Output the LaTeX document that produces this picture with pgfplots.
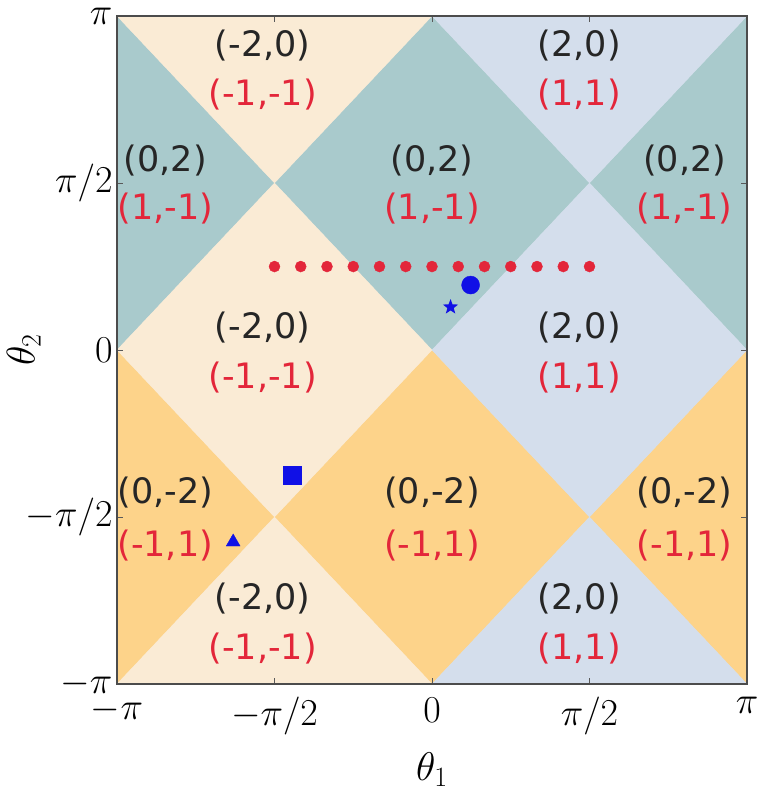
\RequirePackage{fix-cm}
\documentclass[border=0pt]{standalone}
\usepackage{pgfplots}
\pgfplotsset{compat=1.18}
\usepackage{fontspec}
\newfontfamily\dv{DejaVu Sans}
\usetikzlibrary{plotmarks}
\definecolor{cteal}{HTML}{A9CACC}
\definecolor{cbeige}{HTML}{FAEBD5}
\definecolor{cblue}{HTML}{D4DEEC}
\definecolor{corange}{HTML}{FDD38A}
\definecolor{cred}{HTML}{E3263A}
\definecolor{cmark}{HTML}{1010E6}
\definecolor{ctext}{HTML}{262626}
\pgfdeclareplotmark{fstar}{%
  \pgfpathmoveto{\pgfpointpolar{90}{\pgfplotmarksize}}%
  \pgfpathlineto{\pgfpointpolar{126}{0.42\pgfplotmarksize}}%
  \pgfpathlineto{\pgfpointpolar{162}{\pgfplotmarksize}}%
  \pgfpathlineto{\pgfpointpolar{198}{0.42\pgfplotmarksize}}%
  \pgfpathlineto{\pgfpointpolar{234}{\pgfplotmarksize}}%
  \pgfpathlineto{\pgfpointpolar{270}{0.42\pgfplotmarksize}}%
  \pgfpathlineto{\pgfpointpolar{306}{\pgfplotmarksize}}%
  \pgfpathlineto{\pgfpointpolar{342}{0.42\pgfplotmarksize}}%
  \pgfpathlineto{\pgfpointpolar{18}{\pgfplotmarksize}}%
  \pgfpathlineto{\pgfpointpolar{54}{0.42\pgfplotmarksize}}%
  \pgfpathclose\pgfusepathqfill}
\tikzset{blab/.style={text=ctext,font=\dv\fontsize{35}{37}\selectfont},
         rlab/.style={text=cred,font=\dv\fontsize{35}{37}\selectfont}}
\begin{document}
\begin{tikzpicture}
\useasboundingbox (-117pt,-106pt) rectangle (642pt,684pt);
\begin{axis}[
  at={(0pt,0pt)}, anchor=south west,
  scale only axis, width=630pt, height=668pt,
  xmin=-3.14159, xmax=3.14159, ymin=-3.14159, ymax=3.14159,
  axis on top,
  xtick={-3.14159,-1.5708,0,1.5708,3.14159},
  ytick={-3.14159,-1.5708,0,1.5708,3.14159},
  xticklabels={$-\pi$,$-\pi/2$,$0$,$\pi/2$,$\pi$},
  yticklabels={$-\pi$,$-\pi/2$,$0$,$\pi/2$,$\pi$},
  tick label style={font=\fontsize{38}{40}\selectfont},
  label style={font=\fontsize{40}{42}\selectfont},
  xlabel={$\theta_1$}, ylabel={$\theta_2$},
  tick align=inside, major tick length=6pt,
  tick style={gray!70!black, line width=0.8pt},
  axis line style={gray!60!black, line width=1.2pt},
  xticklabel style={yshift=-10pt},
  yticklabel style={xshift=-1pt},
  xlabel style={yshift=-10pt},
  ylabel style={yshift=-22pt},
]
% teal cells
\addplot[fill=cteal, draw=cteal, line width=0.3pt] coordinates {(-4.7124,1.5708) (-3.1416,3.1416) (-1.5708,1.5708) (-3.1416,0)} --cycle;
\addplot[fill=cteal, draw=cteal, line width=0.3pt] coordinates {(-1.5708,1.5708) (0,3.1416) (1.5708,1.5708) (0,0)} --cycle;
\addplot[fill=cteal, draw=cteal, line width=0.3pt] coordinates {(1.5708,1.5708) (3.1416,3.1416) (4.7124,1.5708) (3.1416,0)} --cycle;
% orange cells
\addplot[fill=corange, draw=corange, line width=0.3pt] coordinates {(-4.7124,-1.5708) (-3.1416,0) (-1.5708,-1.5708) (-3.1416,-3.1416)} --cycle;
\addplot[fill=corange, draw=corange, line width=0.3pt] coordinates {(-1.5708,-1.5708) (0,0) (1.5708,-1.5708) (0,-3.1416)} --cycle;
\addplot[fill=corange, draw=corange, line width=0.3pt] coordinates {(1.5708,-1.5708) (3.1416,0) (4.7124,-1.5708) (3.1416,-3.1416)} --cycle;
% beige cells
\addplot[fill=cbeige, draw=cbeige, line width=0.3pt] coordinates {(-3.1416,0) (-1.5708,1.5708) (0,0) (-1.5708,-1.5708)} --cycle;
\addplot[fill=cbeige, draw=cbeige, line width=0.3pt] coordinates {(-3.1416,3.1416) (-1.5708,4.7124) (0,3.1416) (-1.5708,1.5708)} --cycle;
\addplot[fill=cbeige, draw=cbeige, line width=0.3pt] coordinates {(-3.1416,-3.1416) (-1.5708,-1.5708) (0,-3.1416) (-1.5708,-4.7124)} --cycle;
% blue cells
\addplot[fill=cblue, draw=cblue, line width=0.3pt] coordinates {(0,0) (1.5708,1.5708) (3.1416,0) (1.5708,-1.5708)} --cycle;
\addplot[fill=cblue, draw=cblue, line width=0.3pt] coordinates {(0,3.1416) (1.5708,4.7124) (3.1416,3.1416) (1.5708,1.5708)} --cycle;
\addplot[fill=cblue, draw=cblue, line width=0.3pt] coordinates {(0,-3.1416) (1.5708,-1.5708) (3.1416,-3.1416) (1.5708,-4.7124)} --cycle;
% labels
\node[blab] at (axis cs:-1.689,2.868) {(-2,0)};
\node[rlab] at (axis cs:-1.689,2.405) {(-1,-1)};
\node[blab] at (axis cs:1.468,2.868) {(2,0)};
\node[rlab] at (axis cs:1.468,2.405) {(1,1)};
\node[blab] at (axis cs:-2.661,1.781) {(0,2)};
\node[rlab] at (axis cs:-2.661,1.327) {(1,-1)};
\node[blab] at (axis cs:0,1.781) {(0,2)};
\node[rlab] at (axis cs:0,1.327) {(1,-1)};
\node[blab] at (axis cs:2.520,1.781) {(0,2)};
\node[rlab] at (axis cs:2.520,1.327) {(1,-1)};
\node[blab] at (axis cs:-1.689,0.213) {(-2,0)};
\node[rlab] at (axis cs:-1.689,-0.260) {(-1,-1)};
\node[blab] at (axis cs:1.468,0.213) {(2,0)};
\node[rlab] at (axis cs:1.468,-0.260) {(1,1)};
\node[blab] at (axis cs:-2.661,-1.337) {(0,-2)};
\node[rlab] at (axis cs:-2.661,-1.838) {(-1,1)};
\node[blab] at (axis cs:0,-1.337) {(0,-2)};
\node[rlab] at (axis cs:0,-1.838) {(-1,1)};
\node[blab] at (axis cs:2.520,-1.337) {(0,-2)};
\node[rlab] at (axis cs:2.520,-1.838) {(-1,1)};
\node[blab] at (axis cs:-1.689,-2.338) {(-2,0)};
\node[rlab] at (axis cs:-1.689,-2.811) {(-1,-1)};
\node[blab] at (axis cs:1.468,-2.338) {(2,0)};
\node[rlab] at (axis cs:1.468,-2.811) {(1,1)};
% path of red dots
\addplot[only marks, mark=*, mark size=5.5pt, color=cred, mark options={draw=none, fill=cred}] coordinates {
(-1.5708,0.785) (-1.3090,0.785) (-1.0472,0.785) (-0.7854,0.785) (-0.5236,0.785) (-0.2618,0.785) (0,0.785)
(0.2618,0.785) (0.5236,0.785) (0.7854,0.785) (1.0472,0.785) (1.3090,0.785) (1.5708,0.785)};
% markers
\addplot[only marks, mark=*, mark size=9pt, color=cmark, mark options={draw=none, fill=cmark}] coordinates {(0.385,0.611)};
\addplot[only marks, mark=fstar, mark size=8pt, color=cmark, mark options={fill=cmark}] coordinates {(0.185,0.404)};
\addplot[only marks, mark=square*, mark size=9pt, color=cmark, mark options={draw=none, fill=cmark}] coordinates {(-1.393,-1.176)};
\addplot[only marks, mark=triangle*, mark size=8pt, color=cmark, mark options={draw=none, fill=cmark}] coordinates {(-1.983,-1.806)};
\end{axis}
\end{tikzpicture}
\end{document}
